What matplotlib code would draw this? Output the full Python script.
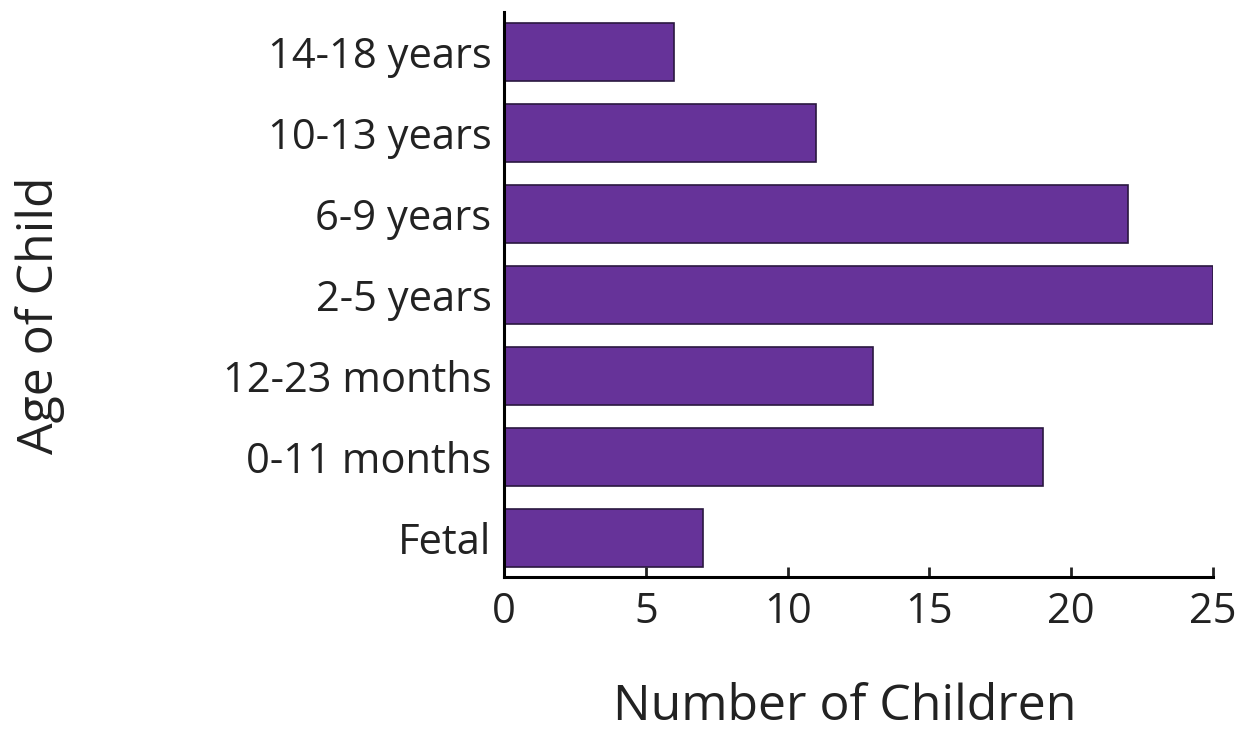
import matplotlib
matplotlib.use('Agg')
import matplotlib.pyplot as plt

plt.rcParams['font.family'] = ['Open Sans', 'DejaVu Sans']

# data
ages = ['Fetal', '0-11 months', '12-23 months', '2-5 years', '6-9 years', '10-13 years', '14-18 years']
children = [7, 19, 13, 25, 22, 11, 6]

fig = plt.figure(figsize=(12.39, 7.56), dpi=100)
ax = fig.add_axes([0.4068, 0.2368, 0.5722, 0.7473])

ax.barh(range(len(ages)), children, height=0.72, color='#663399',
        edgecolor='#2a1840', linewidth=1.2)

ax.set_xlim(0, 25)
ax.set_ylim(-0.48, 6.49)
ax.set_xticks([0, 5, 10, 15, 20, 25])
ax.set_yticks(range(len(ages)))
ax.set_yticklabels(ages)

ax.spines['top'].set_visible(False)
ax.spines['right'].set_visible(False)
ax.spines['left'].set_linewidth(2.2)
ax.spines['bottom'].set_linewidth(2.2)
ax.tick_params(axis='x', direction='in', length=7, width=2, labelsize=30, pad=10, colors='#222222')
ax.tick_params(axis='y', length=0, labelsize=30, pad=9, colors='#222222')

fig.text(0.682, 0.064, 'Number of Children', fontsize=36, ha='center', va='center', color='#222222')
fig.text(0.032, 0.583, 'Age of Child', fontsize=36, ha='center', va='center', rotation=90, color='#222222')

fig.savefig('out.png', dpi=100)
